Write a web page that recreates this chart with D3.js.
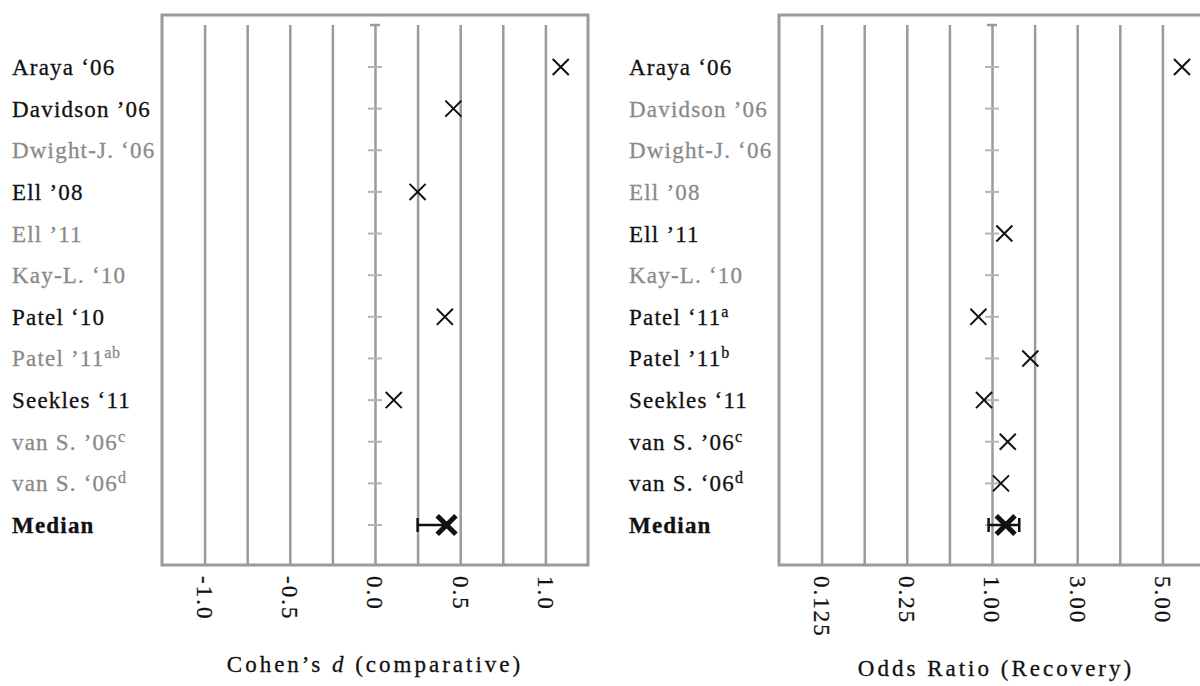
<!DOCTYPE html>
<html>
<head>
<meta charset="utf-8">
<script src="https://cdn.jsdelivr.net/npm/d3@7"></script>
<style>
  body { margin: 0; background: #fff; }
  text { font-family: "Liberation Serif", "Times New Roman", serif; }
</style>
</head>
<body>
<script>
// ---- data ----
const leftLabels = ["Araya \u201806", "Davidson \u201906", "Dwight-J. \u201806", "Ell \u201908", "Ell \u201911",
  "Kay-L. \u201810", "Patel \u201810", "Patel \u201911", "Seekles \u201811", "van S. \u201906", "van S. \u201806", "Median"];
const leftSup = ["", "", "", "", "", "", "", "ab", "", "c", "d", ""];
const leftValues = [1.09, 0.46, null, 0.25, null, null, 0.41, null, 0.11, null, null, 0.42];
const leftMedianCI = [0.25, 0.42];
const leftGrid = [-1.0, -0.75, -0.5, -0.25, 0, 0.25, 0.5, 0.75, 1.0];
const leftTicks = [-1.0, -0.5, 0.0, 0.5, 1.0];

const rightLabels = ["Araya \u201806", "Davidson \u201906", "Dwight-J. \u201806", "Ell \u201908", "Ell \u201911",
  "Kay-L. \u201810", "Patel \u201811", "Patel \u201911", "Seekles \u201811", "van S. \u201906", "van S. \u201806", "Median"];
const rightSup = ["", "", "", "", "", "", "a", "b", "", "c", "d", ""];
const rightValues = [5.46, null, null, null, 1.29, null, 0.88, 1.9, 0.93, 1.37, 1.21, 1.32];
const rightMedianCI = [0.97, 1.64];
const rightGrid = [0.125, 0.1875, 0.25, 0.625, 1, 2, 3, 4, 5];
const rightTicks = [0.125, 0.25, 1, 3, 5];

// ---- canvas ----
const canvWidth = 1200, canvHeight = 686;
const svg = d3.select("body").append("svg")
  .attr("width", canvWidth)
  .attr("height", canvHeight)
  .style("background-color", "#fff");

const boxTop = 15, boxBottom = 565, gridTop = 25;
const gridColor = "#9a9a9a";
const greyText = "#8a8a8a";

const y = d3.scalePoint().domain(d3.range(leftLabels.length)).range([67, 525]);

// left panel: linear Cohen's d
const xLeft = d3.scaleLinear().domain([-1.25, 1.25]).range([162, 588]);
// right panel: piecewise scale, every tick two grid steps apart
const step = 42.6, oneX = 992;
const xRight = d3.scaleLinear()
  .domain([0.0625, 0.125, 0.25, 1, 3, 5, 6])
  .range([-5, -4, -2, 0, 2, 4, 5].map(k => oneX + k * step));

drawPanel({
  x: xLeft, labels: leftLabels, sup: leftSup, values: leftValues, ci: leftMedianCI,
  grid: leftGrid, ticks: leftTicks, zero: 0, labelX: 12,
  fmt: d => d3.format(".1f")(d).replace("\u2212", "-"),
  title: ["Cohen\u2019s ", "d", " (comparative)"], titleY: 672, leftCapOnly: true
});
drawPanel({
  x: xRight, labels: rightLabels, sup: rightSup, values: rightValues, ci: rightMedianCI,
  grid: rightGrid, ticks: rightTicks, zero: 1, labelX: 629,
  fmt: d => d === 0.125 ? "0.125" : d3.format(".2f")(d),
  title: ["Odds Ratio (Recovery)"], titleY: 676, leftCapOnly: false
});

function drawPanel(p) {
  const g = svg.append("g");
  const r = p.x.range();
  const x0 = r[0], x1 = r[r.length - 1];

  // frame
  g.append("rect")
    .attr("x", x0).attr("y", boxTop)
    .attr("width", x1 - x0).attr("height", boxBottom - boxTop)
    .attr("fill", "none").attr("stroke", gridColor).attr("stroke-width", 3);

  // grid lines
  const gridAxis = g.append("g")
    .attr("transform", "translate(0," + boxBottom + ")")
    .call(d3.axisBottom(p.x).tickValues(p.grid).tickSize(-(boxBottom - gridTop)).tickFormat(""));
  gridAxis.select(".domain").remove();
  gridAxis.selectAll(".tick line").attr("stroke", gridColor).attr("stroke-width", 2.5);

  // zero / null line decorations
  const zx = p.x(p.zero);
  g.append("line").attr("x1", zx - 5).attr("x2", zx + 5).attr("y1", gridTop).attr("y2", gridTop)
    .attr("stroke", gridColor).attr("stroke-width", 2.5);
  g.selectAll(".rowtick").data(p.labels).enter().append("line")
    .attr("x1", zx - 7).attr("x2", zx + 7)
    .attr("y1", (d, i) => y(i)).attr("y2", (d, i) => y(i))
    .attr("stroke", "#b5b5b5").attr("stroke-width", 2);

  // tick labels, rotated
  const tickAxis = g.append("g")
    .attr("transform", "translate(0," + boxBottom + ")")
    .call(d3.axisBottom(p.x).tickValues(p.ticks).tickSize(0).tickFormat(p.fmt));
  tickAxis.select(".domain").remove();
  tickAxis.selectAll(".tick text")
    .attr("transform", "rotate(90)")
    .attr("x", 11).attr("y", 0).attr("dy", "0.35em")
    .style("text-anchor", "start")
    .attr("font-size", "23px")
    .attr("letter-spacing", "2px")
    .attr("fill", "#111")
    .attr("stroke", "#111").attr("stroke-width", 0.3);

  // row labels
  const lab = g.selectAll(".lab").data(p.labels).enter().append("text")
    .attr("x", p.labelX).attr("y", (d, i) => y(i) + 8)
    .attr("font-size", "23px")
    .attr("letter-spacing", "1.2px")
    .attr("font-weight", (d, i) => i === p.labels.length - 1 ? "bold" : "normal")
    .attr("fill", (d, i) => p.values[i] === null ? greyText : "#111")
    .attr("stroke", (d, i) => p.values[i] === null ? greyText : "#111")
    .attr("stroke-width", 0.3);
  lab.append("tspan").text(d => d);
  lab.append("tspan").text((d, i) => p.sup[i])
    .attr("font-size", "16px").attr("letter-spacing", "0.5px").attr("dy", "-8");

  // study markers
  const last = p.values.length - 1;
  const pts = p.values.map((v, i) => ({ v: v, i: i })).filter(d => d.v !== null && d.i !== last);
  g.selectAll(".mk").data(pts).enter().append("path")
    .attr("d", d3.symbol(d3.symbolTimes, 170))
    .attr("transform", d => "translate(" + p.x(d.v) + "," + y(d.i) + ")")
    .attr("fill", "none").attr("stroke", "#111").attr("stroke-width", 2);

  // median with interval
  const my = y(last);
  g.append("line").attr("x1", p.x(p.ci[0])).attr("x2", p.x(p.ci[1]))
    .attr("y1", my).attr("y2", my).attr("stroke", "#111").attr("stroke-width", 2.5);
  const caps = p.leftCapOnly ? [p.ci[0]] : p.ci;
  g.selectAll(".cap").data(caps).enter().append("line")
    .attr("x1", d => p.x(d)).attr("x2", d => p.x(d))
    .attr("y1", my - 7).attr("y2", my + 7)
    .attr("stroke", "#111").attr("stroke-width", 2.5);
  g.append("path")
    .attr("d", d3.symbol(d3.symbolTimes, 230))
    .attr("transform", "translate(" + p.x(p.values[last]) + "," + my + ")")
    .attr("fill", "none").attr("stroke", "#111").attr("stroke-width", 5);

  // axis title
  const t = g.append("text")
    .attr("x", (x0 + Math.min(x1, canvWidth + 10)) / 2 + (p.leftCapOnly ? 0 : 4))
    .attr("y", p.titleY)
    .attr("text-anchor", "middle")
    .attr("font-size", "23px")
    .attr("letter-spacing", "3px")
    .attr("fill", "#111")
    .attr("stroke", "#111").attr("stroke-width", 0.3);
  p.title.forEach(s => {
    t.append("tspan").text(s).attr("font-style", s === "d" ? "italic" : "normal");
  });
}
</script>
</body>
</html>
